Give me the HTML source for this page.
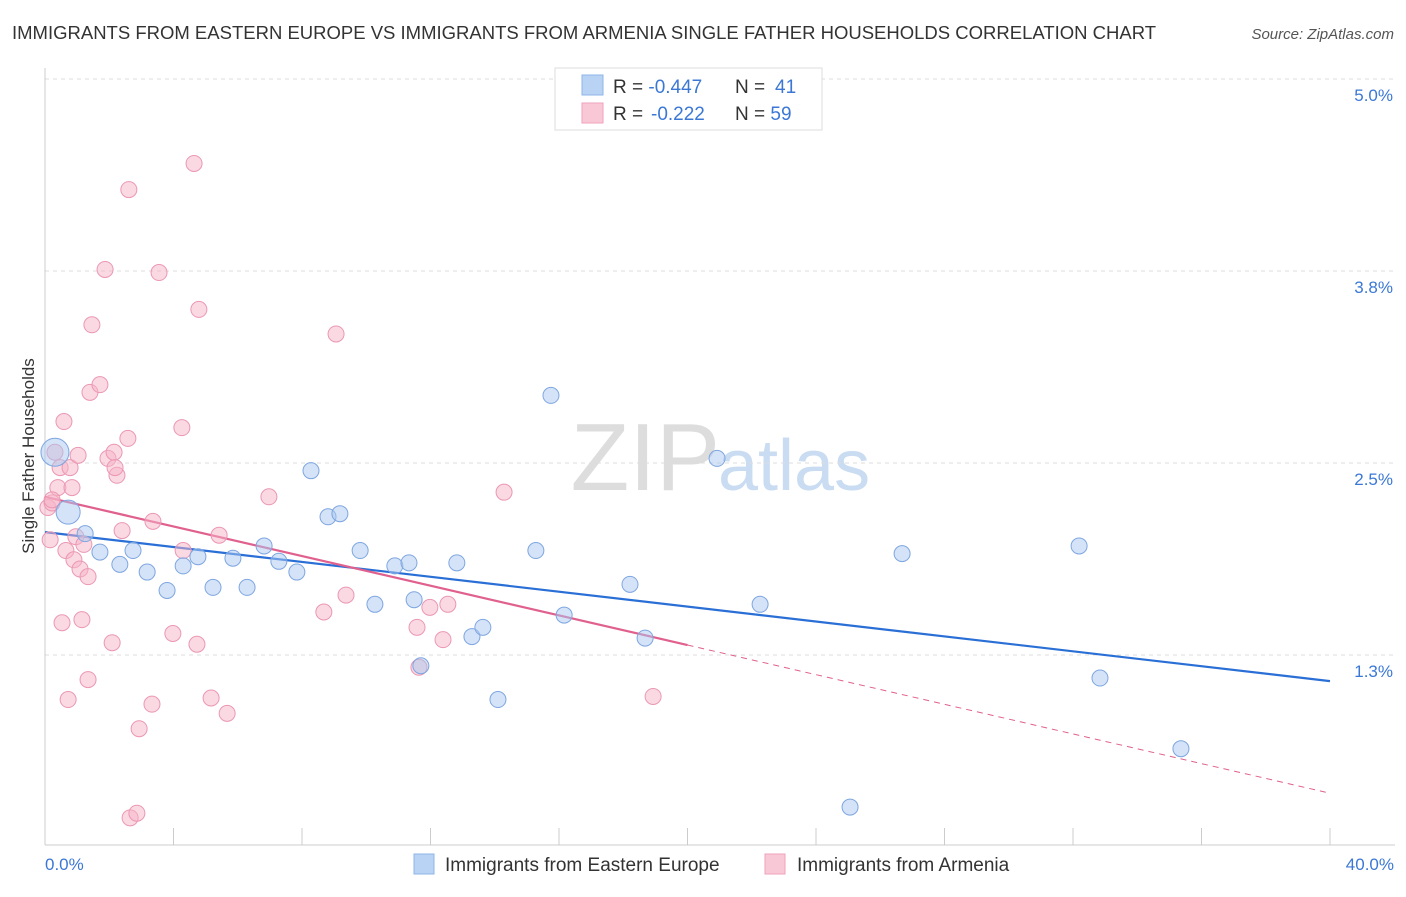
<!DOCTYPE html>
<html><head><meta charset="utf-8"><style>
body{margin:0;background:#fff;font-family:"Liberation Sans",sans-serif;}
svg text{font-family:"Liberation Sans",sans-serif;}
</style></head><body>
<svg id="chart" width="1406" height="892">
<text x="12" y="39" font-size="18.5" fill="#333">IMMIGRANTS FROM EASTERN EUROPE VS IMMIGRANTS FROM ARMENIA SINGLE FATHER HOUSEHOLDS CORRELATION CHART</text>
<text x="1394" y="39" font-size="15" fill="#555" font-style="italic" text-anchor="end">Source: ZipAtlas.com</text>
<text x="720" y="490" font-size="96" fill="#ddd" text-anchor="end" font-family="Liberation Serif">ZIP</text>
<text x="718" y="490" font-size="72" fill="#c9dcf2">atlas</text>
<g id="grid"></g>
<line x1="45" y1="68" x2="45" y2="845" stroke="#ccc"/>
<line x1="45" y1="845" x2="1395" y2="845" stroke="#ccc"/>
<text transform="translate(34,456) rotate(-90)" font-size="17" fill="#333" text-anchor="middle">Single Father Households</text>
<text x="45" y="870" font-size="17" fill="#3b78d6">0.0%</text>
<text x="1394" y="870" font-size="17" fill="#3b78d6" text-anchor="end">40.0%</text>
<g id="lines"></g>
<g id="pts"></g>
<g>
<rect x="555" y="68" width="267" height="62" fill="#fff" stroke="#ddd"/>
<rect x="582" y="75" width="21" height="20" fill="#b9d3f5" stroke="#8fb4e8"/>
<rect x="582" y="103" width="21" height="20" fill="#f9c8d6" stroke="#eea3bb"/>
<text x="613" y="93" font-size="19" fill="#333">R = <tspan fill="#3b78d6">-0.447</tspan><tspan x="735">N = </tspan><tspan fill="#3b78d6" x="775">41</tspan></text>
<text x="613" y="120" font-size="19" fill="#333">R = <tspan fill="#3b78d6" x="651">-0.222</tspan><tspan x="735">N = </tspan><tspan fill="#3b78d6">59</tspan></text>
</g>
<g>
<rect x="414" y="854" width="20" height="20" fill="#b9d3f5" stroke="#8fb4e8"/>
<text x="445" y="871" font-size="19" fill="#333">Immigrants from Eastern Europe</text>
<rect x="765" y="854" width="20" height="20" fill="#f9c8d6" stroke="#eea3bb"/>
<text x="797" y="871" font-size="19" fill="#333">Immigrants from Armenia</text>
</g>
</svg>
<script>
const yTicks=[1.25,2.5,3.75,5.0];
const yTickLabels=["1.3%","2.5%","3.8%","5.0%"];
const xTicks=[0,4,8,12,16,20,24,28,32,36,40];
const blueX=[0.31,0.72,1.25,1.71,2.33,2.74,3.18,3.80,4.30,4.76,5.23,5.85,6.29,6.82,7.28,7.84,8.28,8.81,9.18,9.81,10.27,10.89,11.33,11.49,11.70,12.82,13.29,13.63,14.10,15.28,15.75,16.16,18.21,18.68,20.92,22.26,25.06,26.68,32.19,32.84,35.36];
const blueY=[2.57,2.18,2.04,1.92,1.84,1.93,1.79,1.67,1.83,1.89,1.69,1.88,1.69,1.96,1.86,1.79,2.45,2.15,2.17,1.93,1.58,1.83,1.85,1.61,1.18,1.85,1.37,1.43,0.96,1.93,2.94,1.51,1.71,1.36,2.53,1.58,0.26,1.91,1.96,1.10,0.64];
const pinkX=[0.09,0.16,0.22,0.31,0.40,0.47,0.53,0.59,0.65,0.72,0.78,0.84,0.90,0.96,1.03,1.09,1.15,1.21,1.34,1.34,1.40,1.46,1.71,1.87,1.96,2.09,2.15,2.24,2.40,2.58,2.61,2.65,2.86,2.93,3.33,3.36,3.55,3.98,4.26,4.30,4.64,4.73,4.79,5.17,5.42,5.67,6.97,8.68,9.06,9.37,11.58,11.64,11.98,12.39,12.54,14.29,18.93,0.22,2.18];
const pinkY=[2.21,2.00,2.24,2.57,2.34,2.47,1.46,2.77,1.93,0.96,2.47,2.34,1.87,2.02,2.55,1.81,1.48,1.97,1.09,1.76,2.96,3.40,3.01,3.76,2.53,1.33,2.57,2.42,2.06,2.66,4.28,0.19,0.22,0.77,0.93,2.12,3.74,1.39,2.73,1.93,4.45,1.32,3.50,0.97,2.03,0.87,2.28,1.53,3.34,1.64,1.43,1.17,1.56,1.35,1.58,2.31,0.98,2.26,2.47];
const blueTrend=[2.05,1.08];
const pinkTrend=[2.28,0.35];
const NS="http://www.w3.org/2000/svg";
const xs=v=>45+v*32.125, ys=v=>847-v*153.6;
function mk(tag,attrs,parent){const e=document.createElementNS(NS,tag);for(const k in attrs)e.setAttribute(k,attrs[k]);document.getElementById(parent).appendChild(e);return e;}
yTicks.forEach((t,i)=>{
 const l=mk('line',{x1:45,x2:1395,y1:ys(t),y2:ys(t),stroke:'#ddd','stroke-dasharray':'4,4'},'grid');
 
 
 const tx=mk('text',{x:1393,y:ys(t)+22,'font-size':17,fill:'#3b78d6','text-anchor':'end'},'grid');
 tx.textContent=yTickLabels[i];
 
 
});
xTicks.forEach(t=>{
 const l=mk('line',{x1:xs(t),x2:xs(t),y1:828,y2:845,stroke:'#ccc'},'grid');
 
 
});
function yAt(tr,x){return tr[0]+(tr[1]-tr[0])*x/40;}
let l1=mk('line',{x1:xs(0),y1:ys(yAt(blueTrend,0)),x2:xs(40),y2:ys(yAt(blueTrend,40)),stroke:'#2a6fd6','stroke-width':2.2},'lines');


let l2=mk('line',{x1:xs(0),y1:ys(yAt(pinkTrend,0)),x2:xs(20),y2:ys(yAt(pinkTrend,20)),stroke:'#e0608e','stroke-width':2.2},'lines');


let l3=mk('line',{x1:xs(20),y1:ys(yAt(pinkTrend,20)),x2:xs(40),y2:ys(yAt(pinkTrend,40)),stroke:'#e0608e','stroke-width':1,'stroke-dasharray':'6,5'},'lines');


pinkX.forEach((x,i)=>{
 const c=mk('circle',{cx:xs(x),cy:ys(pinkY[i]),r:8,fill:'rgba(246,180,200,0.5)',stroke:'#eb97b3','stroke-width':1},'pts');
 
 
});
blueX.forEach((x,i)=>{
 const r=i==0?14:(i==1?12:8);
 const c=mk('circle',{cx:xs(x),cy:ys(blueY[i]),r:r,fill:'rgba(170,200,240,0.5)',stroke:'#7ea6e0','stroke-width':1},'pts');
 
 
});
</script>
</body></html>
